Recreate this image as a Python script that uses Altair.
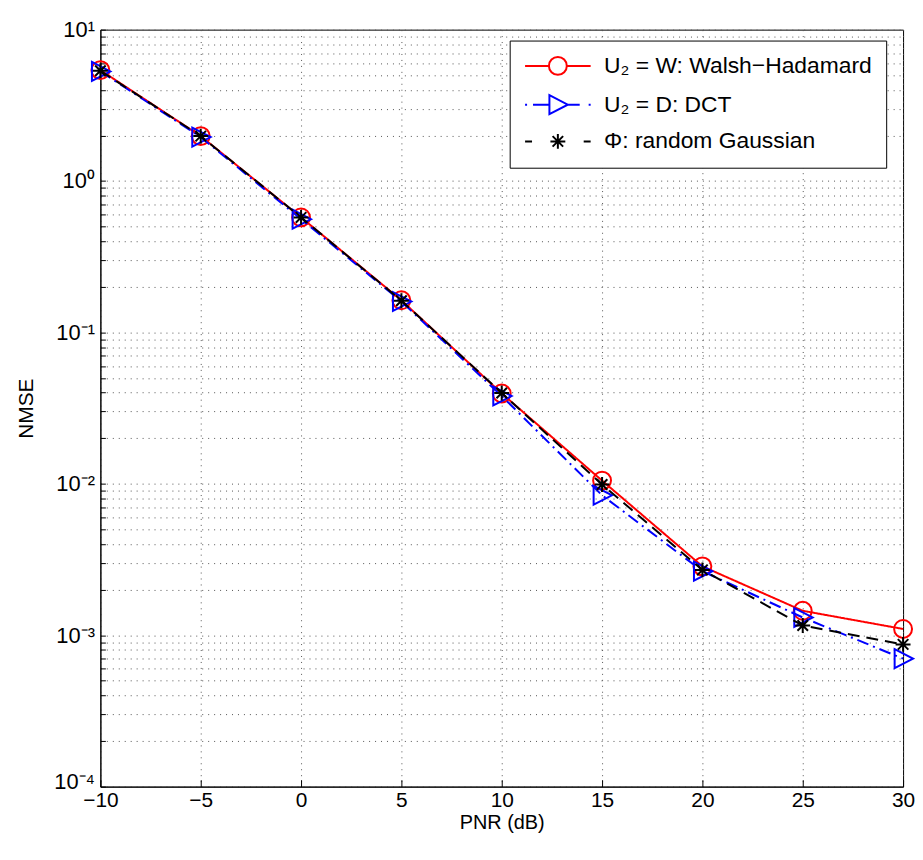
import altair as alt
import pandas as pd

# ---- data ----
pnr = [-10, -5, 0, 5, 10, 15, 20, 25, 30]
nmse_walsh = [5.4, 1.98, 0.575, 0.163, 0.0395, 0.0105, 0.00285, 0.00145, 0.0011]
nmse_dct = [5.3, 1.95, 0.56, 0.16, 0.038, 0.0084, 0.00265, 0.00131, 0.00070]
nmse_gauss = [5.35, 1.98, 0.575, 0.162, 0.0398, 0.0099, 0.0027, 0.00116, 0.00087]

series_names = ["U\u2082 = W: Walsh\u2212Hadamard", "U\u2082 = D: DCT", "\u03a6: random Gaussian"]
series_values = [nmse_walsh, nmse_dct, nmse_gauss]

x_ticks = [-10, -5, 0, 5, 10, 15, 20, 25, 30]
y_decades = [1e-4, 1e-3, 1e-2, 1e-1, 1, 10]
y_decade_labels = ["10\u207b\u2074", "10\u207b\u00b3", "10\u207b\u00b2", "10\u207b\u00b9", "10\u2070", "10\u00b9"]

# ---- styles ----
colors = ["#ff0000", "#0000ff", "#000000"]
dashes = [[1, 0], [12, 5, 2, 5], [12, 7]]
marker_paths = [
    "M0.9,0A0.9,0.9 0 1,1 -0.9,0A0.9,0.9 0 1,1 0.9,0",
    "M-0.85,-0.95L1,0L-0.85,0.95Z",
    "M-0.75,0L0.75,0M0,-0.75L0,0.75M-0.53,-0.53L0.53,0.53M-0.53,0.53L0.53,-0.53",
]
legend_paths = [
    "M-1,0L1.4,0M3.2,0L5.6,0M3.2,0A0.9,0.9 0 1,1 1.4,0A0.9,0.9 0 1,1 3.2,0",
    "M-1,0L-0.8,0M-0.2,0L1.45,0M1.45,-0.95L3.3,0L1.45,0.95ZM3.3,0L4.5,0M5.4,0L5.6,0",
    "M-1,0L-0.3,0M4.9,0L5.6,0M1.55,0L3.05,0M2.3,-0.75L2.3,0.75M1.77,-0.53L2.83,0.53M1.77,0.53L2.83,-0.53",
]

FONT = "Liberation Sans"

rows = []
for name, vals in zip(series_names, series_values):
    for p, v in zip(pnr, vals):
        rows.append({"pnr": p, "nmse": v, "series": name})
df = pd.DataFrame(rows)

y_values = [m * 10.0 ** e for e in range(-4, 1) for m in range(1, 10)] + [10.0]
label_expr = " : ".join(
    f"datum.value == {v!r} ? '{lab}'" for v, lab in zip(y_decades, y_decade_labels)
) + " : ''"

x_axis = alt.Axis(
    values=x_ticks, title="PNR (dB)", titleFontSize=20, titleFontWeight="normal",
    labelFontSize=21, labelPadding=10, titlePadding=2, labelFlush=False,
    grid=True, gridDash=[1, 5], gridColor="#555555", gridWidth=1,
    tickSize={"expr": "-7"}, tickColor="black",
    domainColor="black", labelColor="black", titleColor="black",
)
y_axis = alt.Axis(
    values=y_values, labelExpr=label_expr, title="NMSE", titleFontSize=21,
    titleFontWeight="normal", labelFontSize=22, labelPadding=11, titlePadding=17,
    labelFlush=False,
    labelOffset={"condition": {"test": f"datum.value == {y_decades[0]!r}", "value": -5}, "value": 0},
    grid=True, gridDash=[1, 5], gridColor="#555555", gridWidth=1,
    tickSize={"expr": "-5"}, tickColor="black", domainColor="black",
    labelColor="black", titleColor="black",
)

base = alt.Chart(df).encode(
    x=alt.X("pnr:Q", scale=alt.Scale(domain=[-10, 30], nice=False, zero=False), axis=x_axis),
    y=alt.Y("nmse:Q", scale=alt.Scale(type="log", domain=[1e-4, 10], nice=False), axis=y_axis),
)

layers = []
for name, col, dash, path in zip(series_names, colors, dashes, marker_paths):
    sub = base.transform_filter(alt.datum.series == name)
    layers.append(sub.mark_line(color=col, strokeDash=dash, strokeWidth=2))
    layers.append(sub.mark_point(shape=path, size=400, color=col, filled=False,
                                 strokeWidth=2, opacity=1))

legend = alt.Legend(
    title=None, orient="none", legendX=412, legendY=11, fillColor="white",
    strokeColor="black", padding=14, symbolSize=400, symbolStrokeWidth=2,
    labelFont=FONT, labelFontSize=23, labelColor="black", labelOffset=58,
    rowPadding=12, labelLimit=500,
)
legend_df = pd.DataFrame({"series": series_names})
legend_layer = alt.Chart(legend_df).transform_filter("false").mark_point(
    filled=False, opacity=1, size=400
).encode(
    color=alt.Color("series:N", scale=alt.Scale(domain=series_names, range=colors), legend=legend),
    shape=alt.Shape("series:N", scale=alt.Scale(domain=series_names, range=legend_paths), legend=legend),
)

chart = alt.layer(*layers, legend_layer).properties(
    width=808, height=762,
    autosize=alt.AutoSizeParams(type="none"),
    padding={"left": 93, "top": 19, "right": 12, "bottom": 58},
).configure(font=FONT).configure_view(stroke="black", strokeWidth=1).configure_legend(strokeWidth=1)

chart.save("out.html", embed_options={"renderer": "svg", "actions": False})
